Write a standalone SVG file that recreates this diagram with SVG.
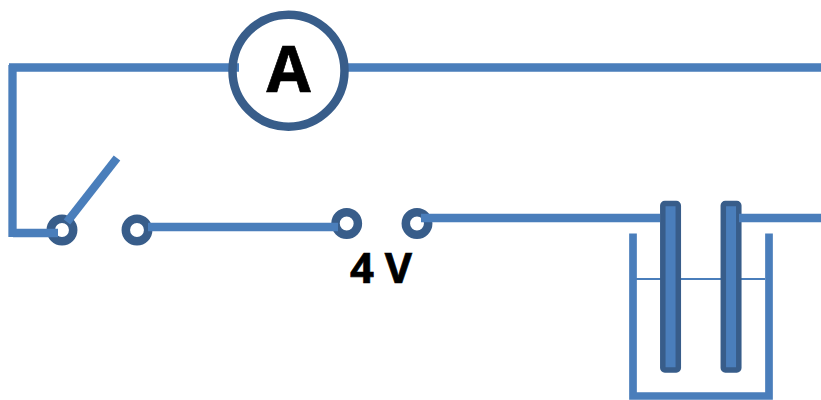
<svg xmlns="http://www.w3.org/2000/svg" width="821" height="400" viewBox="0 0 821 400">
<style>
.w{fill:none;stroke:#4a7ebb;stroke-width:8.300}
.d{fill:#fff;stroke:#385d8a;stroke-width:8.500}
.r{fill:none;stroke:#385d8a;stroke-width:8.500}
.e{fill:#4a7ebb;stroke:#385d8a;stroke-width:5.500}
.t{font-family:"Open Sans","Noto Sans",sans-serif;font-weight:700;fill:#000;stroke:#000;stroke-width:.7;text-anchor:middle}
</style>
<rect width="821" height="400" fill="#fff"/>
<g id="connectors-under">
<path class="w" d="M9 67.500H239M347 67.500H821"/>
</g>
<g id="ammeter">
<circle class="r" cx="288.500" cy="70.700" r="56"/>
<text class="t" x="288.500" y="92" font-size="64">A</text>
</g>
<g id="terminal-1"><circle class="d" cx="62" cy="230" r="11.200"/></g>
<g id="terminal-2"><circle class="d" cx="137" cy="230" r="11.200"/></g>
<g id="terminal-3"><circle class="d" cx="346.700" cy="223.500" r="11.200"/></g>
<g id="terminal-4"><circle class="d" cx="417" cy="223.500" r="11.200"/></g>
<g id="beaker">
<path class="w" d="M633 233.500V396H769V233.500" style="stroke-width:7.700"/>
<path d="M636 279H765" fill="none" stroke="#4a7ebb" stroke-width="2"/>
</g>
<g id="electrode-1"><rect class="e" x="662.800" y="203.500" width="15.500" height="166.500" rx="2"/></g>
<g id="electrode-2"><rect class="e" x="723.300" y="203.500" width="15.500" height="166.500" rx="2"/></g>
<g id="connectors">
<path class="w" d="M12.500 65V237M13 233H58"/>
<path class="w" d="M67 222L117 158"/>
<path class="w" d="M148 227H338"/>
<path class="w" d="M421 218H660M739 218H821"/>
</g>
<g id="label-4v"><text class="t" x="381" y="282.500" font-size="42">4 V</text></g>
</svg>
